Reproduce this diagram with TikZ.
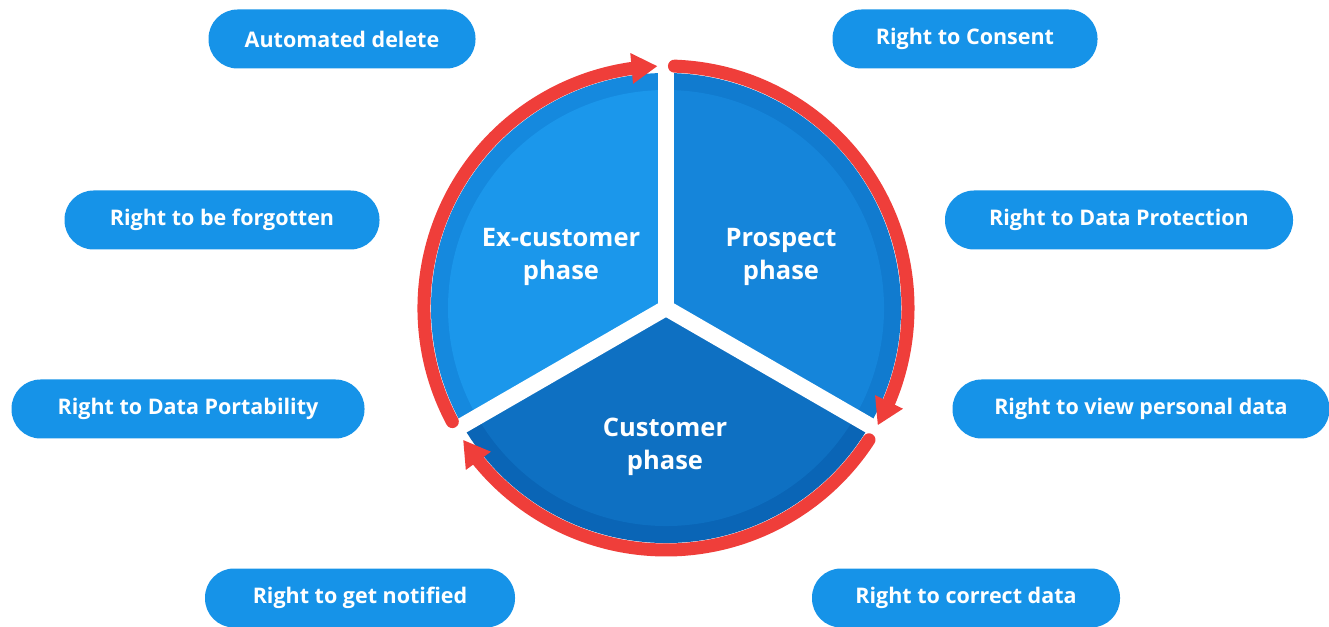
\documentclass[tikz,border=0pt]{standalone}
\usepackage{fontspec}
\setmainfont{Open Sans}
\usepackage{tikz}
\usetikzlibrary{positioning,arrows.meta,bending}
\definecolor{pillblue}{HTML}{1693E8}
\definecolor{exfill}{HTML}{1B97EB}
\definecolor{exband}{HTML}{1589DE}
\definecolor{profill}{HTML}{1585DA}
\definecolor{proband}{HTML}{117BCF}
\definecolor{cusfill}{HTML}{0E70C2}
\definecolor{cusband}{HTML}{0A65B6}
\definecolor{cyclered}{HTML}{EF3E3A}
\tikzstyle{rightbox} = [fill=pillblue, text=white, rounded corners=29pt, minimum height=59pt,
  font=\fontsize{21.5}{26}\selectfont\bfseries, inner xsep=0pt]
\tikzstyle{phase} = [text=white, align=center, font=\fontsize{25.5}{33}\selectfont\bfseries]
\tikzstyle{cycle} = [cyclered, line width=13pt, line cap=round, -{Triangle[length=26pt,width=29pt]}]

\begin{document}
\begin{tikzpicture}[x=1pt,y=1pt]
			\useasboundingbox (0,0) rectangle (1329,626);
			\coordinate (c) at (666,318);
			% the three phases
			\fill[exband] (c) -- ++(90:235) arc[start angle=90, end angle=210, radius=235] -- cycle;
			\fill[exfill] (c) -- ++(90:218) arc[start angle=90, end angle=210, radius=218] -- cycle;
			\fill[proband] (c) -- ++(-30:235) arc[start angle=-30, end angle=90, radius=235] -- cycle;
			\fill[profill] (c) -- ++(-30:218) arc[start angle=-30, end angle=90, radius=218] -- cycle;
			\fill[cusband] (c) -- ++(210:235) arc[start angle=210, end angle=330, radius=235] -- cycle;
			\fill[cusfill] (c) -- ++(210:218) arc[start angle=210, end angle=330, radius=218] -- cycle;
			\foreach \a in {90,210,330}
				\draw[white, line width=16pt] (c) -- ++(\a:238);
			\node[phase] (ex) at (561,369) {Ex-customer\\phase};
			\node[phase] (pro) at (781,369) {Prospect\\phase};
			\node[phase] (cus) at (665,179) {Customer\\phase};
			% red cycle
			\draw[cycle] ([shift={(208:242)}]c) arc[start angle=208, end angle=92, radius=242];
			\draw[cycle] ([shift={(88:242)}]c) arc[start angle=88, end angle=-29, radius=242];
			\draw[cycle] ([shift={(-33:242)}]c) arc[start angle=-33, end angle=-147, radius=242];
			% rights
			\node[rightbox, minimum width=267pt] (del) at (342,587) {Automated delete};
			\node[rightbox, minimum width=265pt] (con) at (965,587) {Right to Consent};
			\node[rightbox, minimum width=315pt] (forg) at (222,406) {Right to be forgotten};
			\node[rightbox, minimum width=348pt] (prot) at (1119,406) {Right to Data Protection};
			\node[rightbox, minimum width=353pt] (port) at (188,217) {Right to Data Portability};
			\node[rightbox, minimum width=377pt] (view) at (1141,217) {Right to view personal data};
			\node[rightbox, minimum width=310pt] (noti) at (360,28) {Right to get notified};
			\node[rightbox, minimum width=308pt] (corr) at (966,28) {Right to correct data};
		\end{tikzpicture}
\end{document}
